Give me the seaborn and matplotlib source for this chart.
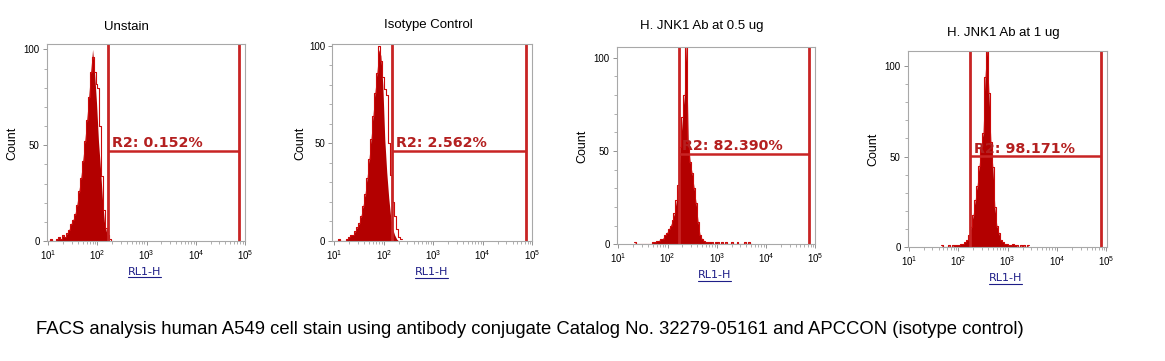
import numpy as np
import pandas as pd
import matplotlib
matplotlib.use("Agg")
import matplotlib.pyplot as plt
import seaborn as sns
from matplotlib.ticker import MultipleLocator, FixedLocator
from matplotlib.lines import Line2D

# panel titles and gate labels
titles = ["Unstain", "Isotype Control", "H. JNK1 Ab at 0.5 ug", "H. JNK1 Ab at 1 ug"]
gate_labels = ["R2: 0.152%", "R2: 2.562%", "R2: 82.390%", "R2: 98.171%"]

# gate R2 (RL1-H bounds and marker height in counts)
gate_lo = [166, 148, 170, 174]
gate_hi = [74000, 74000, 74000, 76000]
gate_y = [47.1, 46.2, 48.5, 50.2]

# histogram channels: first bin centre (log10 RL1-H), bin width 0.04 decades
bin_start = [1.02, 1.02, 1.34, 1.66]
bin_step = 0.04

unstain_fill = [0, 1, 0, 0, 1, 2, 1, 3, 2, 4, 6, 9, 11, 14, 19, 26, 33, 42, 52, 63,
                75, 88, 100, 88, 72, 52, 38, 22, 10, 5, 1, 0, 0]
unstain_line = [0, 1, 0, 0, 1, 2, 1, 3, 2, 4, 6, 9, 11, 14, 19, 26, 33, 42, 52, 63,
                75, 88, 96, 88, 82, 80, 60, 34, 16, 7, 3, 1, 0]

isotype_fill = [0, 0, 1, 0, 0, 0, 1, 2, 3, 3, 5, 7, 9, 13, 18, 24, 32, 42, 52, 64,
                76, 86, 98, 95, 80, 52, 35, 22, 12, 6, 3, 1, 0, 0]
isotype_line = [0, 0, 1, 0, 0, 0, 1, 2, 3, 3, 5, 7, 9, 13, 18, 24, 32, 42, 52, 64,
                76, 86, 100, 92, 84, 78, 75, 50, 34, 20, 13, 6, 2, 1]

jnk_05_counts = [1, 0, 0, 0, 0, 0, 0, 0, 0, 1,
                 1, 2, 2, 3, 3, 5, 6, 8, 10, 13,
                 17, 24, 32, 52, 68, 80, 110, 55, 44, 38,
                 30, 22, 12, 5, 3, 2, 1, 1, 1, 1,
                 0, 1, 1, 0, 1, 0, 1, 0, 0, 1,
                 0, 0, 1, 0, 0, 0, 1, 0, 1, 0]

jnk_1_counts = [1, 0, 0, 0, 1, 0, 1, 1, 1, 1,
                2, 2, 3, 4, 7, 11, 18, 26, 34, 45,
                55, 63, 94, 112, 85, 58, 44, 22, 12, 8,
                4, 3, 2, 2, 1, 1, 2, 1, 1, 0,
                1, 0, 1, 0, 1]

fills = [unstain_fill, isotype_fill, jnk_05_counts, jnk_1_counts]
lines = [unstain_line, isotype_line, jnk_05_counts, jnk_1_counts]

W, H = 1165, 361
# axes boxes in pixels: left, top, right, bottom
boxes = [(46.7, 44, 245, 241), (332.3, 44.3, 532.3, 241),
         (616.7, 47.3, 815.3, 244.3), (907.7, 50.7, 1106.7, 247.3)]
xlims = [(10**0.967, 10**5), (10**0.96, 10**5), (10**0.967, 10**5), (10**0.975, 10**5.005)]
ytops = [102.8, 100.7, 105.6, 108.4]
title_pos = [(126.7, 26.7), (428, 25), (701.7, 26), (1003, 33)]
count_pos = [(12, 143), (300, 143), (582.7, 146), (873, 149)]
xlab_pos = [(144.3, 271.7), (431.7, 272), (714.3, 275), (1005.7, 278)]

FILL = "#b30000"
LINE = "#cc0a0a"
GATE = "#c82424"
TXT = "#b42020"
SPINE = "#a8a8a8"

sns.set_theme(style="white")
plt.rcParams["font.family"] = ["Liberation Sans", "DejaVu Sans"]
plt.rcParams["mathtext.default"] = "regular"

fig = plt.figure(figsize=(W / 100, H / 100), dpi=100)
fig.patch.set_facecolor("white")

def fx(px):
    return px / W

def fy(py):
    return 1 - py / H

for i in range(4):
    l, t, r, b = boxes[i]
    ax = fig.add_axes([fx(l), fy(b), (r - l) / W, (b - t) / H])
    n = len(fills[i])
    centers = bin_start[i] + bin_step * np.arange(n)
    df = pd.DataFrame({"rl1": 10 ** centers, "fill": fills[i], "line": lines[i]})
    brange = (bin_start[i] - bin_step / 2, bin_start[i] + bin_step * (n - 0.5))
    sns.histplot(data=df, x="rl1", weights="fill", binwidth=bin_step, binrange=brange,
                 log_scale=True, element="poly", fill=True, color=FILL, alpha=1,
                 linewidth=0, ax=ax)
    sns.histplot(data=df, x="rl1", weights="line", binwidth=bin_step, binrange=brange,
                 log_scale=True, element="step", fill=False, color=LINE,
                 linewidth=0.8, ax=ax)

    ax.axvline(gate_lo[i], color=GATE, lw=2)
    ax.axvline(gate_hi[i], color=GATE, lw=2)
    ax.hlines(gate_y[i], gate_lo[i], gate_hi[i], color=GATE, lw=1.8)
    ax.text(gate_lo[i] * 1.17, gate_y[i] + 2, gate_labels[i], color=TXT,
            fontsize=10.3, family="DejaVu Sans", fontweight="bold",
            va="baseline", ha="left")

    ax.set_xlim(*xlims[i])
    ax.set_ylim(0, ytops[i])
    ax.set_xlabel("")
    ax.set_ylabel("")
    ax.yaxis.set_major_locator(FixedLocator([0, 50, 100]))
    ax.yaxis.set_minor_locator(MultipleLocator(10))
    ax.tick_params(axis="both", which="major", labelsize=7, length=3, width=0.6,
                   color="#808080", labelcolor="black", direction="out", pad=2,
                   bottom=True, left=True)
    ax.tick_params(axis="both", which="minor", length=2, width=0.5,
                   color="#909090", direction="out", bottom=True, left=True)
    for s in ax.spines.values():
        s.set_color(SPINE)
        s.set_linewidth(0.8)

    fig.text(fx(title_pos[i][0]), fy(title_pos[i][1]), titles[i], ha="center",
             va="center", fontsize=9.5, color="black")
    fig.text(fx(count_pos[i][0]), fy(count_pos[i][1]), "Count", ha="center",
             va="center", rotation=90, fontsize=9, color="black")
    fig.text(fx(xlab_pos[i][0]), fy(xlab_pos[i][1]), "RL1-H", ha="center",
             va="center", fontsize=8, color="#1e1e88", family="DejaVu Sans")

fig.text(fx(36), fy(329), "FACS analysis human A549 cell stain using antibody conjugate "
         "Catalog No. 32279-05161 and APCCON (isotype control)", ha="left", va="center",
         fontsize=13.3, color="black")

# underline the channel labels
renderer = fig.canvas.get_renderer()
for i in range(4):
    x0, y0 = xlab_pos[i]
    t = fig.text(0, 0, "RL1-H", fontsize=8, family="DejaVu Sans")
    wpx = t.get_window_extent(renderer).width
    t.remove()
    fig.add_artist(Line2D([fx(x0 - wpx / 2), fx(x0 + wpx / 2)],
                          [fy(y0 + 5.5), fy(y0 + 5.5)], color="#1e1e88", lw=0.8))

fig.savefig("out.png", dpi=100, facecolor="white")
